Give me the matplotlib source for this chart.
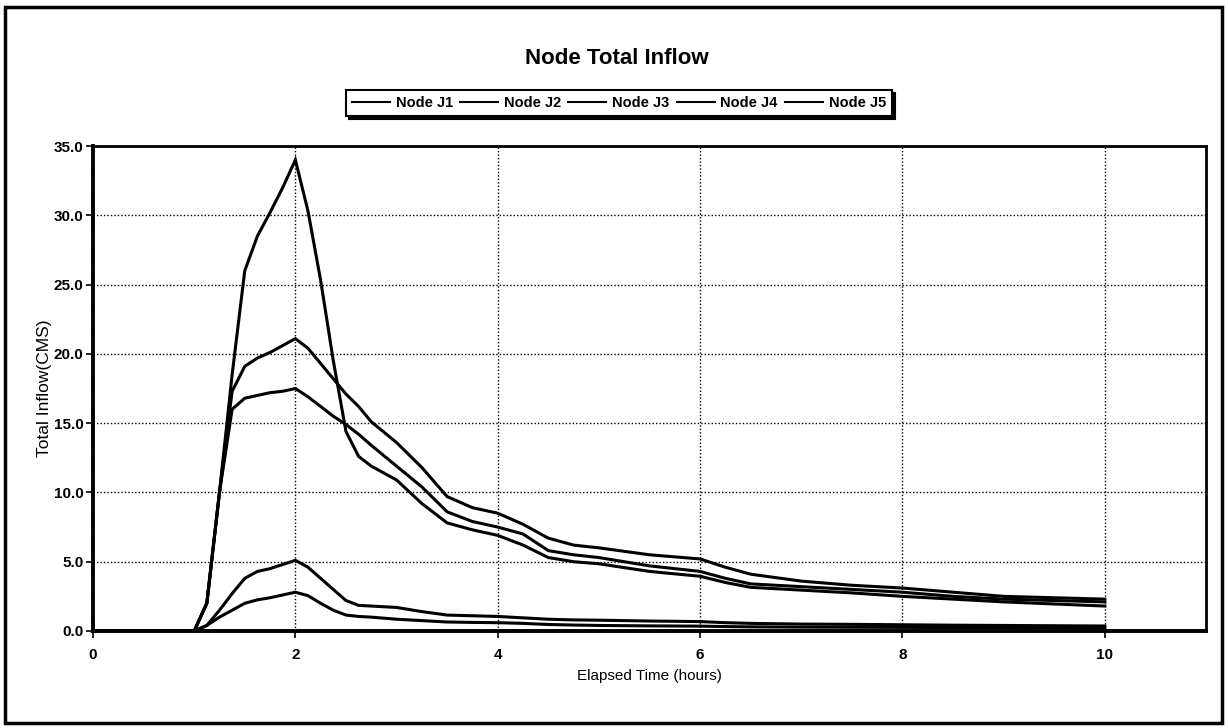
import numpy as np
import matplotlib
matplotlib.use("Agg")
import matplotlib.pyplot as plt
from matplotlib.patches import Rectangle

plt.rcParams['font.family'] = ['Liberation Sans Narrow', 'Liberation Sans', 'DejaVu Sans']

# temps écoulé (heures) commun aux cinq noeuds
temps = [0.0, 1.0, 1.125, 1.25, 1.375, 1.5, 1.625, 1.75, 1.875, 2.0,
         2.125, 2.25, 2.375, 2.5, 2.625, 2.75, 3.0, 3.25, 3.5, 3.75,
         4.0, 4.25, 4.5, 4.75, 5.0, 5.5, 6.0, 6.25, 6.5, 7.0,
         7.5, 8.0, 8.5, 9.0, 9.5, 10.0]

# débits entrants totaux (CMS)
node_j1 = [0.0, 0.0, 0.4, 1.0, 1.5, 2.0, 2.25, 2.4, 2.6, 2.8,
           2.55, 2.0, 1.5, 1.15, 1.05, 1.0, 0.85, 0.75, 0.65, 0.62,
           0.6, 0.55, 0.47, 0.43, 0.4, 0.37, 0.35, 0.32, 0.3, 0.28,
           0.27, 0.26, 0.25, 0.24, 0.23, 0.22]
node_j2 = [0.0, 0.0, 0.4, 1.5, 2.7, 3.8, 4.3, 4.5, 4.8, 5.1,
           4.6, 3.8, 3.0, 2.2, 1.85, 1.8, 1.7, 1.4, 1.15, 1.1,
           1.05, 0.95, 0.85, 0.8, 0.78, 0.72, 0.68, 0.6, 0.55, 0.5,
           0.48, 0.45, 0.42, 0.4, 0.38, 0.36]
node_j3 = [0.0, 0.0, 2.0, 10.0, 16.0, 16.8, 17.0, 17.2, 17.3, 17.5,
           16.9, 16.2, 15.5, 14.9, 14.2, 13.4, 11.9, 10.4, 8.6, 7.9,
           7.5, 7.0, 5.8, 5.5, 5.3, 4.7, 4.3, 3.8, 3.4, 3.2,
           3.0, 2.8, 2.5, 2.3, 2.2, 2.1]
node_j4 = [0.0, 0.0, 2.0, 10.0, 17.3, 19.1, 19.7, 20.1, 20.6, 21.1,
           20.4, 19.3, 18.2, 17.1, 16.2, 15.1, 13.6, 11.8, 9.7, 8.9,
           8.5, 7.7, 6.7, 6.2, 6.0, 5.5, 5.2, 4.6, 4.1, 3.6,
           3.3, 3.1, 2.8, 2.5, 2.4, 2.3]
node_j5 = [0.0, 0.0, 2.0, 10.0, 18.5, 26.0, 28.5, 30.2, 32.0, 34.0,
           30.3, 25.3, 19.5, 14.4, 12.6, 11.9, 10.9, 9.2, 7.8, 7.3,
           6.9, 6.2, 5.3, 5.0, 4.85, 4.3, 3.95, 3.5, 3.15, 2.95,
           2.75, 2.5, 2.3, 2.1, 1.95, 1.8]

noms = ["Node J1", "Node J2", "Node J3", "Node J4", "Node J5"]
series = [node_j1, node_j2, node_j3, node_j4, node_j5]

fig = plt.figure(figsize=(12.28, 7.28), dpi=100)
ax = fig.add_axes([93 / 1228, 1 - 631 / 728, (1206 - 93) / 1228, (631 - 146) / 728])

for nom, q in zip(noms, series):
    ax.plot(temps, q, color="black", lw=2.2, label=nom, solid_joinstyle="miter")

ax.set_xlim(0, 11)
ax.set_ylim(0, 35)
ax.set_xticks([0, 2, 4, 6, 8, 10])
ax.set_yticks(np.arange(0, 36, 5))
ax.set_yticklabels([f"{v:.1f}" for v in np.arange(0, 36, 5)])
ax.tick_params(direction="out", length=5, width=1.2, labelsize=11)
ax.tick_params(axis="x", pad=7)
ax.tick_params(axis="y", pad=2)
for lab in ax.get_xticklabels() + ax.get_yticklabels():
    lab.set_fontweight("bold")

ax.grid(True, color="black", linestyle=(0, (1, 1.5)), linewidth=1.0)
for side, w in [("left", 2.8), ("bottom", 2.8), ("top", 2.0), ("right", 2.0)]:
    ax.spines[side].set_linewidth(w)

ax.set_xlabel("Elapsed Time (hours)", fontsize=11, labelpad=5)
ax.set_ylabel("Total Inflow(CMS)", fontsize=12.5, labelpad=1)

fig.text(0.502, 1 - 58 / 728, "Node Total Inflow", ha="center", va="center",
         fontsize=16, fontweight="bold")

leg = fig.legend(loc="center", bbox_to_anchor=(619 / 1228, 1 - 103 / 728), ncol=5,
                 frameon=True, fancybox=False, edgecolor="black", framealpha=1,
                 shadow={"color": "black", "alpha": 1}, fontsize=10.5,
                 handlelength=2.6, handletextpad=0.4, columnspacing=0.5,
                 borderpad=0.4)
leg.get_frame().set_linewidth(1.5)
for h in leg.get_lines():
    h.set_linewidth(1.5)
for t in leg.get_texts():
    t.set_fontweight("bold")

# cadre extérieur du graphique
fig.patches.append(Rectangle((5 / 1228, 5 / 728), 1217 / 1228, 716 / 728,
                             transform=fig.transFigure, fill=False,
                             edgecolor="black", linewidth=2.5))

fig.savefig("out.png", dpi=100)
